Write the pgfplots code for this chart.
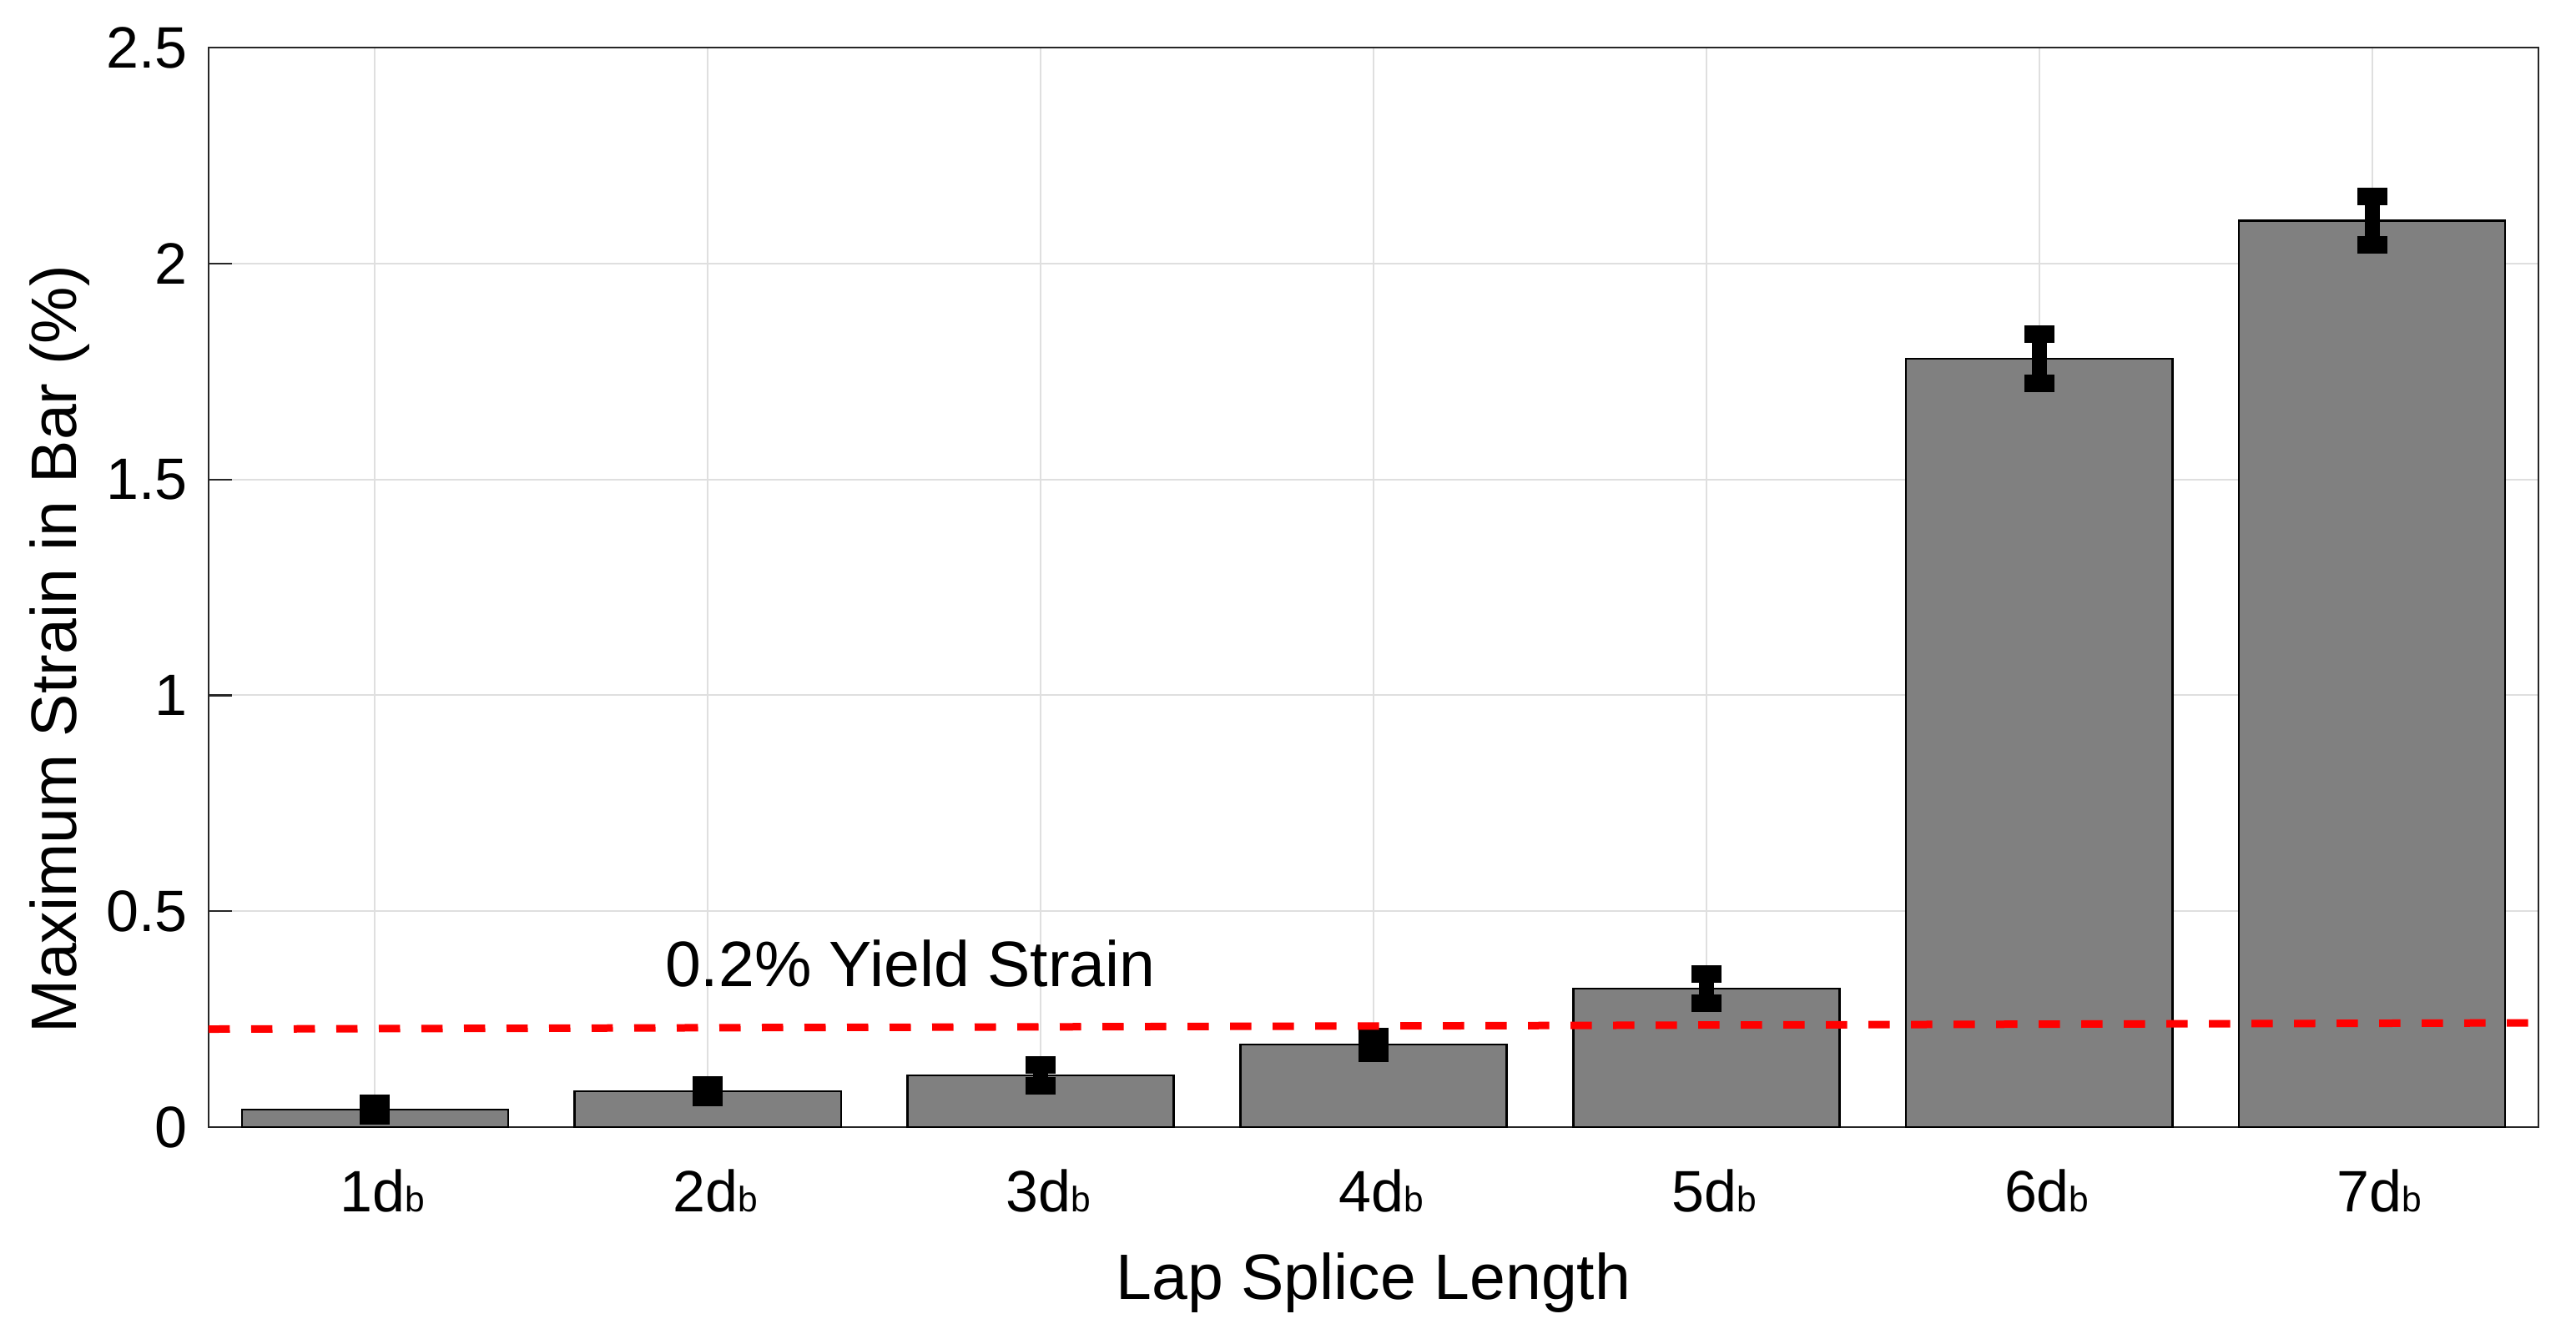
\documentclass[border=0pt]{standalone}
\usepackage{fontspec}
\setmainfont{Liberation Sans}
\usepackage{pgfplots}
\pgfplotsset{compat=1.18}
\definecolor{bargray}{RGB}{128,128,128}
\definecolor{axgray}{RGB}{38,38,38}
\definecolor{gridgray}{RGB}{223,223,223}
\newcommand{\db}{d{\fontsize{8.5}{10}\selectfont b}}
\begin{document}
\begin{tikzpicture}
\path[use as bounding box] (-50pt,-49.4pt) rectangle (567.4pt,270.2pt);
\begin{axis}[
  at={(0,0)}, anchor=south west,
  scale only axis, width=558.4pt, height=258.8pt,
  xmin=0.5, xmax=7.5, ymin=0, ymax=2.5,
  xtick={1,2,3,4,5,6,7},
  xticklabels={1\db,2\db,3\db,4\db,5\db,6\db,7\db},
  ytick={0,0.5,1,1.5,2,2.5},
  yticklabels={0,0.5,1,1.5,2,2.5},
  tick align=inside, tick pos=left,
  major tick length=5.7pt,
  xtick style={draw=none},
  ytick style={axgray, line width=0.45pt},
  axis line style={axgray, line width=0.45pt},
  grid=major, grid style={gridgray, line width=0.4pt},
  ticklabel style={font=\fontsize{14}{16}\selectfont, text=black},
  xticklabel style={anchor=base, yshift=-20.2pt, xshift=1.8pt},
  yticklabel style={xshift=-1.5pt},
  xlabel={Lap Splice Length},
  ylabel={Maximum Strain in Bar (\%)},
  label style={font=\fontsize{15.4}{18}\selectfont},
  xlabel style={at={(axis description cs:0.5,0)}, anchor=base, yshift=-41.2pt},
  ylabel style={at={(axis description cs:-0.0566,0.4428)}, anchor=base},
  /pgf/number format/assume math mode=true,
]
\addplot[ybar, bar width=0.8, fill=bargray, draw=black, line width=0.5pt,
  error bars/.cd, y dir=both, y explicit,
  error bar style={black, line width=3.6pt},
  error mark options={black, line width=7.2pt, mark size=2.1pt, line cap=butt}]
  coordinates {
    (1,0.041) +- (0,0.015)
    (2,0.083) +- (0,0.015)
    (3,0.120) +- (0,0.024)
    (4,0.191) +- (0,0.019)
    (5,0.321) +- (0,0.034)
    (6,1.779) +- (0,0.057)
    (7,2.099) +- (0,0.056)
  };
\addplot[red, line width=1.8pt, dash pattern=on 5.1pt off 5.1pt]
  coordinates {(0.5,0.227) (7.5,0.2415)};
\node[anchor=base west, font=\fontsize{15.4}{18}\selectfont, inner sep=0pt]
  at (axis cs:1.869,0.3265) {0.2\% Yield Strain};
\end{axis}
\end{tikzpicture}
\end{document}
